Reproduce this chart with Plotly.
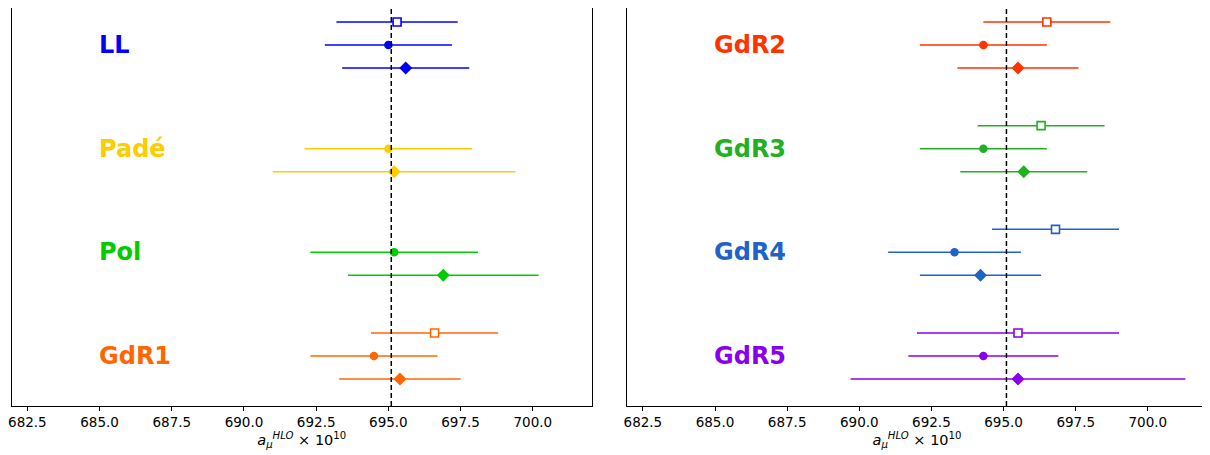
import plotly.graph_objects as go

# ---------------- data ----------------
left_groups = ["LL", "Padé", "Pol", "GdR1"]
left_colors = ["#0000ff", "#ffcc00", "#00cc00", "#ff6600"]
left_sq_val = [695.3, None, None, 696.6]
left_sq_err = [2.1, None, None, 2.2]
left_circ_val = [695.0, 695.0, 695.2, 694.5]
left_circ_err = [2.2, 2.9, 2.9, 2.2]
left_dia_val = [695.6, 695.2, 696.9, 695.4]
left_dia_err = [2.2, 4.2, 3.3, 2.1]

right_groups = ["GdR2", "GdR3", "GdR4", "GdR5"]
right_colors = ["#ff3300", "#22b022", "#1f63c8", "#8800ee"]
right_sq_val = [696.5, 696.3, 696.8, 695.5]
right_sq_err = [2.2, 2.2, 2.2, 3.5]
right_circ_val = [694.3, 694.3, 693.3, 694.3]
right_circ_err = [2.2, 2.2, 2.3, 2.6]
right_dia_val = [695.5, 695.7, 694.2, 695.5]
right_dia_err = [2.1, 2.2, 2.1, 5.8]

reference_value = 695.1
tick_values = [682.5, 685.0, 687.5, 690.0, 692.5, 695.0, 697.5, 700.0]
label_x = 685.0

# ---------------- figure ----------------
FONT = "DejaVu Sans"
fig = go.Figure()

W, H = 1202, 447   # page body has an 8px margin
OFF = 0.222
XR = [681.95, 702.05]
YR = [0.518, 4.357]


def add_panel(groups, colors, sq_v, sq_e, c_v, c_e, d_v, d_e, xa, ya):
    n = len(groups)
    for i, g in enumerate(groups):
        yc = n - i
        col = colors[i]
        sets = [
            (sq_v[i], sq_e[i], yc + OFF, "square", 8, "white", 1.6),
            (c_v[i], c_e[i], yc, "circle", 8.5, col, 0),
            (d_v[i], d_e[i], yc - OFF, "diamond", 10, col, 0),
        ]
        for v, e, yy, sym, sz, fill, lw in sets:
            if v is None:
                continue
            fig.add_trace(go.Scatter(
                x=[v], y=[yy], mode="markers",
                xaxis=xa, yaxis=ya, showlegend=False,
                marker=dict(symbol=sym, size=sz, color=fill,
                            line=dict(color=col, width=lw)),
                error_x=dict(type="data", array=[e], color=col,
                             thickness=1.5, width=0),
            ))
        fig.add_annotation(
            x=label_x, y=yc, xref=xa, yref=ya, text="<b>%s</b>" % g,
            showarrow=False, xanchor="left", yanchor="middle", xshift=-3,
            font=dict(family=FONT, size=24, color=col),
        )
    fig.add_shape(type="line", xref=xa, yref=ya, x0=reference_value,
                  x1=reference_value, y0=YR[0], y1=YR[1],
                  line=dict(color="black", width=1.5, dash="5px,3px"))


add_panel(left_groups, left_colors, left_sq_val, left_sq_err,
          left_circ_val, left_circ_err, left_dia_val, left_dia_err, "x", "y")
add_panel(right_groups, right_colors, right_sq_val, right_sq_err,
          right_circ_val, right_circ_err, right_dia_val, right_dia_err, "x2", "y2")

xcommon = dict(range=XR, tickvals=tick_values,
               ticktext=["%.1f" % t for t in tick_values],
               ticks="outside", ticklen=4, tickwidth=1, tickcolor="black",
               showline=True, linecolor="black", linewidth=1, mirror=False,
               showgrid=False, zeroline=False, automargin=False,
               tickfont=dict(family=FONT, size=13.5, color="black"),
               title=dict(text="<i>a</i><sub><i>μ</i></sub><sup><i>HLO</i></sup> × 10<sup>10</sup>",
                          font=dict(family=FONT, size=14.5, color="black"),
                          standoff=2))
ycommon = dict(range=YR, showticklabels=False, ticks="", showgrid=False,
               zeroline=False, showline=True, linecolor="black", linewidth=1,
               mirror=True, automargin=False)

fig.update_layout(
    width=W, height=H,
    margin=dict(l=0, r=0, t=0, b=49, autoexpand=False),
    plot_bgcolor="white", paper_bgcolor="white",
    xaxis=dict(domain=[3.5 / W, 584 / W], anchor="y", **xcommon),
    xaxis2=dict(domain=[619 / W, 1199 / W], anchor="y2", **xcommon),
    yaxis=dict(domain=[0, 1], anchor="x", **ycommon),
    yaxis2=dict(domain=[0, 1], anchor="x2", **ycommon),
)

fig.write_html("out.html")
